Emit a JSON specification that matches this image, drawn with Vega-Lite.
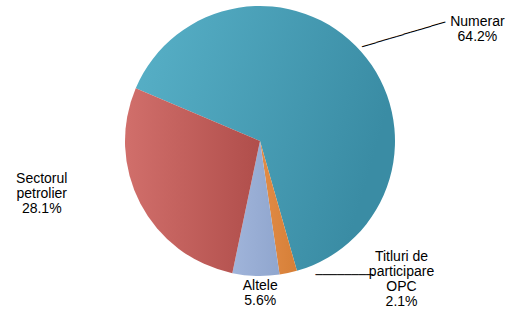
{
  "$schema": "https://vega.github.io/schema/vega-lite/v6.json",
  "width": 520,
  "height": 282,
  "autosize": "none",
  "padding": {"left": 0, "right": 0, "top": 0, "bottom": 30},
  "background": "white",
  "view": {"stroke": null},
  "data": {
    "values": [
      {"cat": "Numerar", "value": 64.2, "order": 1, "label": "Numerar\n64.2%"},
      {"cat": "Titluri", "value": 2.1, "order": 2, "label": "Titluri de\nparticipare\nOPC\n2.1%"},
      {"cat": "Altele", "value": 5.6, "order": 3, "label": "Altele\n5.6%"},
      {"cat": "Sectorul", "value": 28.1, "order": 4, "label": "Sectorul\npetrolier\n28.1%"}
    ]
  },
  "encoding": {
    "theta": {"field": "value", "type": "quantitative", "stack": true, "scale": {"range": [-1.1694, 5.1138]}},
    "order": {"field": "order", "type": "quantitative"}
  },
  "layer": [
    {
      "mark": {"type": "arc", "radius": 135, "fill": {"gradient": "linear", "x1": 0, "y1": 0, "x2": 1, "y2": 0.3, "stops": [{"offset": 0, "color": "#58b1c8"}, {"offset": 1, "color": "#3a8ca4"}]}},
      "encoding": {"fillOpacity": {"condition": {"test": "datum.cat === 'Numerar'", "value": 1}, "value": 0}}
    },
    {
      "mark": {"type": "arc", "radius": 135, "fill": {"gradient": "linear", "x1": 0, "y1": 0, "x2": 1, "y2": 0, "stops": [{"offset": 0, "color": "#e28c47"}, {"offset": 1, "color": "#d67f37"}]}},
      "encoding": {"fillOpacity": {"condition": {"test": "datum.cat === 'Titluri'", "value": 1}, "value": 0}}
    },
    {
      "mark": {"type": "arc", "radius": 135, "fill": {"gradient": "linear", "x1": 0, "y1": 0, "x2": 1, "y2": 0, "stops": [{"offset": 0, "color": "#a0b4da"}, {"offset": 1, "color": "#90a6ce"}]}},
      "encoding": {"fillOpacity": {"condition": {"test": "datum.cat === 'Altele'", "value": 1}, "value": 0}}
    },
    {
      "mark": {"type": "arc", "radius": 135, "fill": {"gradient": "linear", "x1": 0, "y1": 0, "x2": 1, "y2": 0, "stops": [{"offset": 0, "color": "#d16f6b"}, {"offset": 1, "color": "#b04e4b"}]}},
      "encoding": {"fillOpacity": {"condition": {"test": "datum.cat === 'Sectorul'", "value": 1}, "value": 0}}
    },
    {
      "mark": {"type": "text", "radius": 210, "dx": 60, "dy": 20, "font": "Liberation Sans", "fontSize": 14, "lineHeight": 15, "lineBreak": "\n", "align": "center", "baseline": "middle", "color": "black"},
      "encoding": {"text": {"condition": {"test": "datum.cat === 'Numerar'", "field": "label"}, "value": ""}}
    },
    {
      "mark": {"type": "text", "radius": 200, "dx": -41, "dy": -55, "font": "Liberation Sans", "fontSize": 14, "lineHeight": 15, "lineBreak": "\n", "align": "center", "baseline": "middle", "color": "black"},
      "encoding": {"text": {"condition": {"test": "datum.cat === 'Sectorul'", "field": "label"}, "value": ""}}
    },
    {
      "mark": {"type": "text", "radius": 155, "dx": 5, "dy": -10, "font": "Liberation Sans", "fontSize": 14, "lineHeight": 15, "lineBreak": "\n", "align": "center", "baseline": "middle", "color": "black"},
      "encoding": {"text": {"condition": {"test": "datum.cat === 'Altele'", "field": "label"}, "value": ""}}
    },
    {
      "mark": {"type": "text", "radius": 160, "dx": 108, "dy": -40, "font": "Liberation Sans", "fontSize": 14, "lineHeight": 15, "lineBreak": "\n", "align": "center", "baseline": "middle", "color": "black"},
      "encoding": {"text": {"condition": {"test": "datum.cat === 'Titluri'", "field": "label"}, "value": ""}}
    },
    {
      "mark": {"type": "text", "radius": 150, "dx": 32, "dy": 2, "angle": -16.6, "font": "DejaVu Sans", "fontSize": 12, "align": "center", "baseline": "middle", "color": "black"},
      "encoding": {"text": {"condition": {"test": "datum.cat === 'Numerar'", "value": "────────────"}, "value": ""}}
    },
    {
      "mark": {"type": "text", "radius": 135, "dx": 56, "dy": 2, "font": "DejaVu Sans", "fontSize": 12, "align": "center", "baseline": "middle", "color": "black"},
      "encoding": {"text": {"condition": {"test": "datum.cat === 'Titluri'", "value": "────────"}, "value": ""}}
    }
  ]
}
